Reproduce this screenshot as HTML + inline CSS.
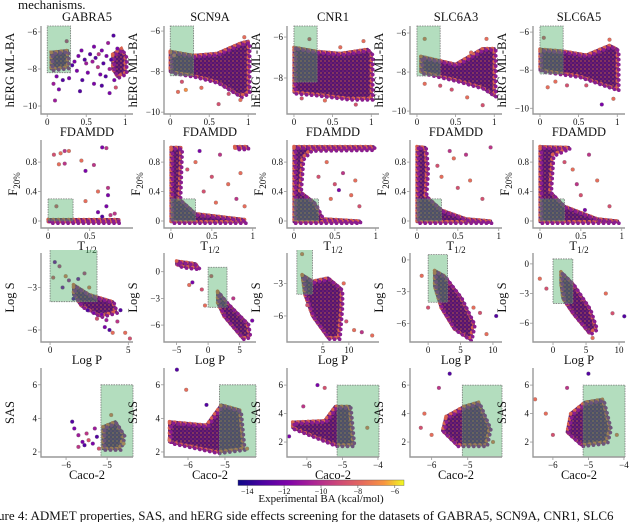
<!DOCTYPE html>
<html><head><meta charset="utf-8">
<style>
html,body{margin:0;padding:0;background:#fff;}
body{width:640px;height:522px;overflow:hidden;font-family:"Liberation Serif",serif;}
svg text{font-family:"Liberation Serif",serif;fill:#111;}
</style></head>
<body>
<svg id="fig" width="640" height="522" viewBox="0 0 640 522" xmlns="http://www.w3.org/2000/svg">
<defs>
<pattern id="dots" width="4" height="4" patternUnits="userSpaceOnUse">
<circle cx="1" cy="1" r="0.9" fill="#e8743e"/>
<circle cx="3" cy="3" r="0.8" fill="#b5307d"/>
</pattern>
<linearGradient id="plasma" x1="0" x2="1" y1="0" y2="0">
<stop offset="0" stop-color="#0d0887"/><stop offset="0.15" stop-color="#4c02a1"/>
<stop offset="0.3" stop-color="#7e03a8"/><stop offset="0.45" stop-color="#a92395"/>
<stop offset="0.6" stop-color="#cc4778"/><stop offset="0.75" stop-color="#e56b5d"/>
<stop offset="0.88" stop-color="#f89540"/><stop offset="1" stop-color="#f0f921"/>
</linearGradient>
</defs>
<text x="18" y="9" font-size="13">mechanisms.</text>
<g id="panels"></g>
<g>
<rect x="238" y="480" width="166" height="5.5" fill="url(#plasma)" stroke="#555" stroke-width="0.4"/>
<g id="cbticks"></g>
<text x="321" y="502" font-size="11" text-anchor="middle">Experimental BA (kcal/mol)</text>
</g>
<text x="-2" y="520" font-size="13">ure 4: ADMET properties, SAS, and hERG side effects screening for the datasets of GABRA5, SCN9A, CNR1, SLC6</text>
</svg>
<script>
const titles = ["GABRA5","SCN9A","CNR1","SLC6A3","SLC6A5"];
const cbTicks = [-14,-12,-10,-8,-6];
const cbDomain = [-14.5,-5.5];
const greenBoxes = [[0,0.3,-8.2,'top'],[0,0.3,0,0.3],[0,3,-4,0.5],[-5.15,'right','bottom',6]];
// row 1: hERG vs FDAMDD
const r1Clouds = [
 [[[0.84,-7.2],[0.95,-6.9],[1.0,-7.3],[1.0,-8.2],[0.9,-8.4],[0.84,-8.0]],[[0.05,-7.1],[0.26,-7.0],[0.26,-7.9],[0.05,-8.0]]],
 [[[0.0,-7.0],[0.3,-7.2],[0.6,-7.1],[0.9,-6.6],[1.0,-6.5],[1.0,-9.0],[0.9,-9.2],[0.6,-8.5],[0.3,-8.2],[0,-8.0]]],
 [[[0,-6.5],[0.3,-6.7],[0.6,-6.8],[0.95,-6.6],[1.0,-6.8],[1.0,-9.0],[0.7,-9.0],[0.3,-8.8],[0,-8.7]]],
 [[[0.05,-7.2],[0.5,-7.6],[0.85,-6.8],[1.0,-6.8],[1.0,-9.2],[0.85,-8.8],[0.5,-8.4],[0.05,-8.0]]],
 [[[0,-6.9],[0.3,-7.0],[0.6,-7.2],[0.9,-6.7],[1.0,-6.9],[1.0,-9.0],[0.85,-8.8],[0.5,-8.3],[0,-8.0]]]
];
const r1Points = [
 [[0.1,-9.7,-11],[0.15,-9.1,-12],[0.25,-6.5,-10],[0.4,-7.3,-12],[0.45,-8.6,-13],[0.5,-7.7,-11],[0.55,-7.2,-13],[0.6,-8.8,-12],[0.65,-7.9,-10],[0.7,-7.0,-12],[0.75,-8.4,-13],[0.78,-6.6,-11],[0.8,-9.3,-12],[0.85,-6.2,-13],[0.88,-9.0,-9],[0.35,-7.6,-12],[0.42,-9.2,-13],[0.6,-6.8,-12],[0.32,-7.8,-13],[0.38,-8.1,-12],[0.48,-7.5,-13],[0.52,-8.2,-12],[0.58,-7.6,-11],[0.62,-7.4,-13],[0.68,-8.3,-12],[0.72,-7.7,-13],[0.76,-7.3,-12],[0.8,-8.0,-11],[0.82,-7.5,-13],[0.12,-8.4,-12],[0.2,-8.6,-13],[0.08,-8.8,-11],[0.28,-8.5,-12],[0.7,-8.9,-13],[0.86,-8.6,-12],[0.44,-7.0,-12],[0.66,-7.2,-10],[0.9,-6.9,-12]],
 [[0.1,-9.0,-8],[0.2,-8.9,-7],[0.62,-9.6,-9],[0.9,-9.4,-8],[0.95,-6.3,-8],[0.05,-7.2,-9],[0.15,-8.5,-9],[0.4,-8.8,-8],[0.75,-9.1,-9]],
 [[0.4,-9.1,-8],[0.8,-9.3,-9],[0.9,-6.2,-8],[0.2,-6.1,-9],[0.6,-6.5,-8],[0.1,-9.0,-9]],
 [[0.1,-8.6,-8],[0.3,-8.7,-9],[0.65,-9.3,-8],[0.85,-9.7,-9],[0.9,-6.3,-8],[0.1,-6.3,-8],[0.45,-8.9,-9],[0.7,-7.0,-8]],
 [[0.1,-8.9,-8],[0.35,-8.8,-9],[0.8,-9.8,-12],[0.95,-9.5,-8],[0.9,-6.4,-8],[0.05,-6.3,-9],[0.2,-8.6,-8],[0.6,-8.8,-9]]
];
// row 2: F20% vs T1/2
const r2Clouds = [
 [[[0,0.02],[0.85,0.02],[0.85,-0.01],[0,-0.01]]],
 [[[0,1.0],[0.12,1.0],[0.1,0.3],[0.3,0.1],[0.9,0.02],[0.9,-0.01],[0,-0.01]],[[0.78,1.01],[0.93,1.01],[0.93,0.99],[0.78,0.99]]],
 [[[0,1.01],[0.97,1.01],[0.97,0.98],[0.2,0.97],[0.1,0.85],[0.07,0.4],[0.25,0.25],[0.35,0.03],[0.8,0.0],[0.8,-0.01],[0,-0.01]]],
 [[[0,1.01],[0.1,1.0],[0.12,0.7],[0.1,0.35],[0.3,0.15],[0.6,0.03],[0.9,0.0],[0.9,-0.01],[0,-0.01]]],
 [[[0,1.01],[0.35,1.0],[0.15,0.9],[0.12,0.4],[0.3,0.2],[0.7,0.03],[0.95,0.0],[0.95,-0.01],[0,-0.01]]]
];
const r2Points = [
 [[0.07,0.9,-9],[0.15,0.92,-8],[0.2,0.95,-10],[0.25,0.95,-8],[0.13,0.77,-8],[0.2,0.78,-10],[0.4,0.82,-8],[0.45,0.68,-12],[0.55,0.76,-10],[0.65,1.0,-12],[0.7,0.99,-10],[0.72,0.45,-10],[0.72,0.35,-12],[0.6,0.4,-8],[0.45,0.27,-8],[0.1,0.2,-9],[0.7,0.2,-12],[0.8,0.1,-10],[0.6,0.12,-12],[0.75,0.08,-10],[0.65,0.06,-13]],
 [[0.3,0.8,-8],[0.5,0.6,-9],[0.6,0.9,-10],[0.7,0.5,-8],[0.85,0.65,-8],[0.8,0.3,-10],[0.4,0.4,-9],[0.9,0.2,-8],[0.2,0.7,-9],[0.35,0.95,-12],[0.55,0.25,-8]],
 [[0.4,0.8,-8],[0.5,0.5,-9],[0.55,0.42,-12],[0.7,0.35,-8],[0.6,0.65,-10],[0.8,0.2,-9],[0.75,0.55,-8],[0.3,0.6,-9],[0.45,0.3,-8]],
 [[0.3,0.6,-8],[0.5,0.45,-9],[0.6,0.9,-10],[0.65,0.55,-8],[0.8,0.3,-9],[0.9,1.0,-10],[0.45,0.85,-8],[0.25,0.75,-9],[0.4,0.95,-10]],
 [[0.4,0.7,-8],[0.5,0.35,-9],[0.6,0.9,-10],[0.7,0.55,-8],[0.85,0.2,-9],[0.55,0.15,-12],[0.3,0.8,-9],[0.45,0.5,-10]]
];
// row 3: Log S vs Log P
const r3Clouds = [
 [[[1.5,-2.8],[2.5,-3.5],[4,-4.0],[4.2,-4.7],[3.2,-5],[2,-4.3],[1.5,-3.5]]],
 [[[-5,1.2],[-2,0.9],[-1.5,0.4],[-4,0.6],[-5,0.8]],[[1.5,-2.2],[3,-3.5],[6.2,-5.8],[6.5,-7.2],[5.5,-7.5],[2.5,-5],[1.5,-3.5]]],
 [[[1,-2.2],[3,-2.8],[6,-2.5],[8.5,-3.5],[8.5,-5],[8,-8],[6,-8],[3,-6],[1.5,-4]]],
 [[[1,-1],[2.5,-1.5],[5,-3.5],[7,-6],[6.5,-7.5],[4,-6.5],[2,-4.5],[1,-2.5]]],
 [[[1.2,-0.8],[3,-2],[5.5,-4.5],[6.5,-6.5],[5.5,-7],[3,-5],[1.5,-3.5],[1.2,-2]]]
];
const r3Points = [
 [[0.3,-1.2,-12],[0.6,-1.5,-10],[1.0,-2.2,-8],[0.8,-3.0,-12],[1.2,-2.5,-11],[1.5,-3.8,-13],[2.2,-2.0,-10],[3.0,-5.2,-9],[3.5,-5.8,-12],[4.0,-6.2,-8],[4.3,-5.4,-10],[4.8,-6.2,-8],[5.1,-6.6,-9],[2.8,-4.8,-12],[3.8,-6.0,-13],[2.5,-3.0,-8],[0.2,-2.3,-9],[1.8,-2.4,-12],[2.4,-4.6,-13],[3.3,-4.9,-12],[4.5,-4.6,-13],[3.6,-5.3,-11]],
 [[-3,-1.5,-8],[-1,-2,-9],[-2.5,-1.2,-12],[4,-3,-10],[7,-5.5,-12],[-0.5,-3.8,-8],[0.5,-0.5,-9]],
 [[1,-0.3,-8],[9.5,-6.5,-9],[11,-7.3,-8],[12.5,-7.5,-10],[14.5,-7.8,-8],[2,-5,-9],[9,-3,-8]],
 [[-1,-1.5,-8],[0,-4.5,-9],[7,-4.5,-8],[8,-5,-9],[10.5,-5.3,-13],[9,-7,-8]],
 [[-2,-1.5,-8],[-1,-2.5,-9],[8,-3,-8],[9,-5,-9],[10.8,-5.3,-13],[6,-7.5,-8]]
];
// row 4: SAS vs Caco-2
const r4Clouds = [
 [[[-5.1,3.5],[-4.8,3.8],[-4.6,3],[-4.7,2.2],[-5.1,2.2]]],
 [[[-6.5,3.8],[-5.5,3.6],[-5.1,4.8],[-4.6,4.5],[-4.5,2.2],[-5.2,2.0],[-6.5,2.6]]],
 [[[-6.4,3.4],[-5.5,3.5],[-5.2,4.5],[-4.8,4.5],[-4.7,1.8],[-5.2,1.8],[-6,2.6],[-6.4,3.0]]],
 [[[-5.6,3.8],[-5.1,4.5],[-4.7,4.8],[-4.4,3],[-4.5,1.8],[-5.3,1.8],[-5.7,2.8]]],
 [[[-5.5,4],[-5.1,4.8],[-4.6,5],[-4.4,3],[-4.5,2],[-5.2,1.8],[-5.6,2.7]]]
];
const r4Points = [
 [[-5.85,3.8,-13],[-5.8,3.4,-12],[-5.7,3.0,-11],[-5.6,2.6,-12],[-5.5,3.1,-10],[-5.45,2.7,-9],[-5.35,2.5,-12],[-5.3,3.4,-11],[-5.25,2.9,-13],[-5.7,2.3,-10],[-5.55,2.4,-13],[-5.2,2.2,-9],[-4.9,4.2,-8],[-4.6,2.5,-8]],
 [[-6.3,6.9,-13],[-6.05,5.7,-8],[-5.5,4.8,-13],[-6.5,2.7,-8],[-4.4,2.2,-8]],
 [[-5.7,6.0,-12],[-5.5,5.8,-9],[-6.1,4.5,-10],[-6.5,2.4,-12],[-4.3,3.0,-8]],
 [[-5.5,6.8,-13],[-5.8,5.8,-10],[-6.2,4.0,-8],[-6.0,2.5,-8],[-6.3,3.0,-9],[-4.3,2.0,-8]],
 [[-5.0,6.8,-13],[-5.6,5.8,-10],[-6.2,4.0,-8],[-6.5,5.0,-8],[-6.0,2.5,-9],[-4.2,2.5,-8]]
];
const rowClouds=[r1Clouds,r2Clouds,r3Clouds,r4Clouds];
const rowPoints=[r1Points,r2Points,r3Points,r4Points];
const xDom = [
 [[-0.08,1.1],[-0.08,1.1],[-0.09,1.1],[-0.09,1.1],[-0.09,1.1]],
 [[-0.085,1.02],[-0.085,1.04],[-0.085,1.04],[-0.085,1.04],[-0.085,1.04]],
 [[-0.58,5.3],[-7,7.6],[-1.9,15.8],[-2.8,11.4],[-3.03,10.9]],
 [[-6.61,-4.37],[-6.65,-4.16],[-6.56,-3.97],[-6.6,-4.05],[-6.56,-3.97]]
];
const yDom = [
 [[-10.43,-5.68],[-10.09,-5.75],[-9.76,-5.46],[-10.15,-5.64],[-10.3,-5.68]],
 [[-0.095,1.1],[-0.095,1.1],[-0.095,1.1],[-0.095,1.1],[-0.095,1.1]],
 [[-6.85,-0.56],[-7.9,2.1],[-8.4,-0.2],[-7.75,0.65],[-7.9,1.1]],
 [[1.7,7.0],[1.7,7.0],[0.95,7.2],[0.95,7.2],[0.95,7.2]]
];
const xTicks = [
 [[0,0.5,1],[0,0.5,1],[0,0.5,1],[0,0.5,1],[0,0.5,1]],
 [[0,0.5],[0,0.5,1],[0,0.5,1],[0,0.5,1],[0,0.5,1]],
 [[0,5],[-5,0,5],[5,10],[0,5,10],[0,5,10]],
 [[-6,-5],[-6,-5],[-6,-5,-4],[-6,-5],[-6,-5,-4]]
];
const yTicks = [
 [[-6,-8,-10],[-6,-8,-10],[-6,-8],[-6,-8,-10],[-6,-8,-10]],
 [[0,0.4,0.8],[0,0.4,0.8],[0,0.4,0.8],[0,0.4,0.8],[0,0.4,0.8]],
 [[-3,-6],[0,-3,-6],[-3,-6],[0,-3,-6],[0,-3,-6]],
 [[2,4,6],[2,4,6],[2,4,6],[2,4,6],[2,4,6]]
];
const xLabels=["FDAMDD","T_1/2","Log P","Caco-2"];
const yLabels=["hERG ML-BA","F_20%","Log S","SAS"];
const colL=[41,164,287,410,533], rowT=[26,140,253,368], rowB=[114,228,342,457], W=92;

const plasmaStops=[[13,8,135],[76,2,161],[126,3,168],[169,35,149],[204,71,120],[229,107,93],[248,149,64],[240,249,33]];
function baColor(v){let t=(v-cbDomain[0])/(cbDomain[1]-cbDomain[0]);t=Math.max(0,Math.min(1,t))*(plasmaStops.length-1);const i=Math.min(Math.floor(t),plasmaStops.length-2),f=t-i;const a=plasmaStops[i],b=plasmaStops[i+1];return `rgb(${a.map((c,k)=>Math.round(c+(b[k]-c)*f)).join(',')})`;}
const NS="http://www.w3.org/2000/svg";
function mk(tag,attrs,parent){const e=document.createElementNS(NS,tag);for(const k in attrs)e.setAttribute(k,attrs[k]);parent.appendChild(e);return e;}
function fmt(v){let s=Number.isInteger(v)?String(v):v.toFixed(1);return s.replace('-','\u2212');}
const root=document.getElementById('panels');
for(let r=0;r<4;r++)for(let c=0;c<5;c++){
 const L=colL[c],R=L+W,T=rowT[r],B=rowB[r];
 const xd=xDom[r][c],yd=yDom[r][c];
 const sx=v=>L+(v-xd[0])/(xd[1]-xd[0])*(R-L);
 const sy=v=>B-(v-yd[0])/(yd[1]-yd[0])*(B-T);
 const g=mk('g',{},root);
 
 
 const cp='cp'+r+c;
 const clip=mk('clipPath',{id:cp},g);mk('rect',{x:L-3,y:T-3,width:W+6,height:B-T+3},clip);
 const body=mk('g',{'clip-path':`url(#${cp})`},g);
 for(const poly of rowClouds[r][c]){
  const pts=poly.map(p=>sx(p[0]).toFixed(1)+','+sy(p[1]).toFixed(1)).join(' ');
  const p1=mk('polygon',{points:pts,fill:'#54166e','stroke':'#6a2270','stroke-width':3,'stroke-linejoin':'round'},body);
  
  
  mk('polygon',{points:pts,fill:'url(#dots)',opacity:0.55},body);
  mk('polygon',{points:pts,fill:'none',stroke:'#d8624f','stroke-width':3.6,'stroke-linecap':'round','stroke-dasharray':'0.1 5'},body);
  mk('polygon',{points:pts,fill:'none',stroke:'#8a1d8f','stroke-width':3.6,'stroke-linecap':'round','stroke-dasharray':'0.1 5','stroke-dashoffset':2.5,transform:'translate(1.5,1.5)'},body);
 }
 for(const p of rowPoints[r][c]){
  const d=mk('circle',{cx:sx(p[0]).toFixed(1),cy:sy(p[1]).toFixed(1),r:1.9,fill:baColor(p[2]),stroke:'#777','stroke-width':0.3},body);
  
  
 }
 const gb=greenBoxes[r];
 const gx0=sx(gb[0]),gx1=gb[1]==='right'?R:sx(gb[1]);
 const gy0=gb[2]==='bottom'?B:sy(gb[2]),gy1=gb[3]==='top'?T:sy(gb[3]);
 const gr=mk('rect',{x:gx0,y:Math.min(gy0,gy1),width:gx1-gx0,height:Math.abs(gy0-gy1),fill:'#41ab5d','fill-opacity':0.4,stroke:'#777','stroke-width':0.8,'stroke-dasharray':'1.5,1'},body);
 
 
 mk('path',{d:`M${L},${T} V${B} H${R}`,fill:'none',stroke:'#999','stroke-width':1.4},g);
 for(const t of xTicks[r][c]){const x=sx(t);mk('line',{x1:x,x2:x,y1:B,y2:B+3,stroke:'#999','stroke-width':0.8},g);
  const tx=mk('text',{x:x,y:B+11,'font-size':9,'text-anchor':'middle'},g);tx.textContent=fmt(t);
  
  }
 for(const t of yTicks[r][c]){const y=sy(t);mk('line',{x1:L-3,x2:L,y1:y,y2:y,stroke:'#999','stroke-width':0.8},g);
  const ty=mk('text',{x:L-4,y:y+3,'font-size':9,'text-anchor':'end'},g);ty.textContent=fmt(t);
  
  }
 const xl=mk('text',{x:(L+R)/2,y:B+22,'font-size':12.5,'text-anchor':'middle'},g);
 
 
 if(xLabels[r].includes('_')){const [a,b]=xLabels[r].split('_');xl.textContent=a;const s=mk('tspan',{'font-size':9,dy:3},xl);s.textContent=b;}else xl.textContent=xLabels[r];
 const yx=L-(r===1?24:27);
 const yl=mk('text',{x:yx,y:(T+B)/2,'font-size':12.5,'text-anchor':'middle',transform:`rotate(-90 ${yx} ${(T+B)/2})`},g);
 
 
 if(yLabels[r].includes('_')){const [a,b]=yLabels[r].split('_');yl.textContent=a;const s=mk('tspan',{'font-size':9,dy:3},yl);s.textContent=b;}else yl.textContent=yLabels[r];
 if(r===0){const tt=mk('text',{x:(L+R)/2,y:21,'font-size':12.5,'text-anchor':'middle'},g);tt.textContent=titles[c];
  
  }
}
const cbg=document.getElementById('cbticks');
for(const t of cbTicks){const x=238+(t-cbDomain[0])/(cbDomain[1]-cbDomain[0])*166;
 mk('line',{x1:x,x2:x,y1:485.5,y2:488,stroke:'#555','stroke-width':0.6},cbg);
 const tx=mk('text',{x:x,y:494,'font-size':8,'text-anchor':'middle'},cbg);tx.textContent=String(t).replace('-','\u2212');
 
 }
</script>
</body></html>
